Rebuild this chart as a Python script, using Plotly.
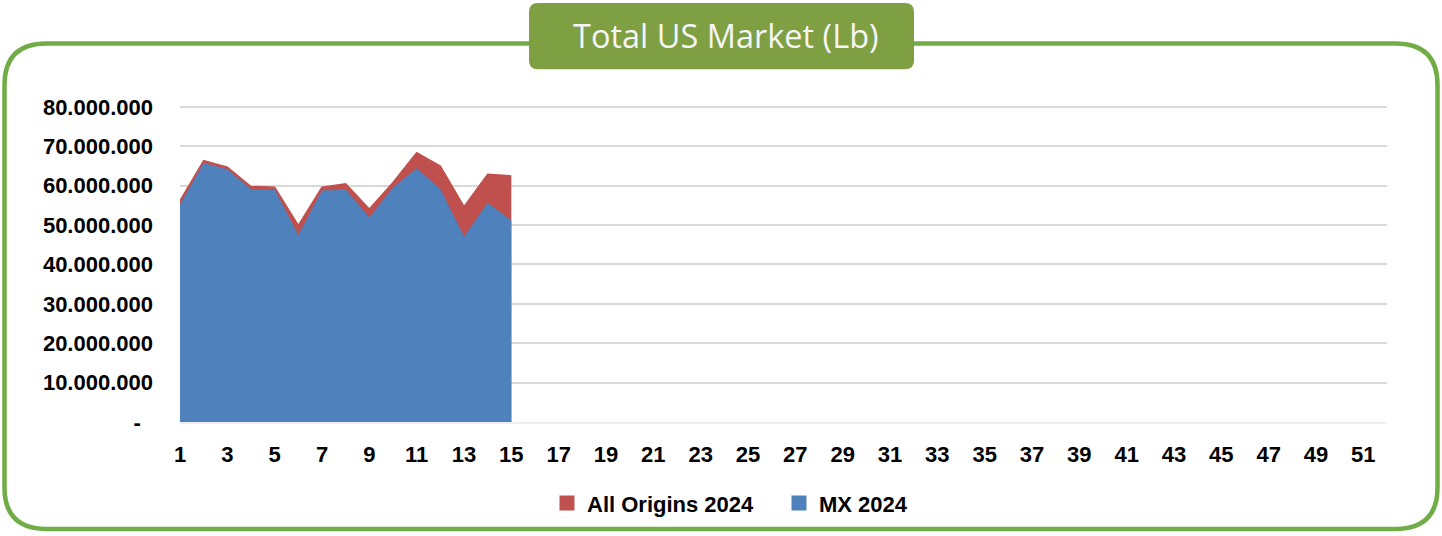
import plotly.graph_objects as go

# ---- data ----
weeks = list(range(1, 16))
all_origins_2024 = [56.2e6, 66.4e6, 64.7e6, 59.8e6, 59.6e6, 49.9e6, 59.6e6, 60.5e6,
                    54.1e6, 60.8e6, 68.4e6, 65.0e6, 54.7e6, 62.9e6, 62.5e6]
mx_2024 = [55.1e6, 65.7e6, 64.1e6, 59.1e6, 58.9e6, 47.4e6, 58.7e6, 59.0e6,
           51.9e6, 59.5e6, 64.4e6, 59.1e6, 47.0e6, 55.6e6, 51.1e6]
x_tick_vals = list(range(1, 52, 2))
y_tick_vals = [0, 10e6, 20e6, 30e6, 40e6, 50e6, 60e6, 70e6, 80e6]
y_tick_text = ["-\u00a0\u00a0", "10.000.000", "20.000.000", "30.000.000", "40.000.000",
               "50.000.000", "60.000.000", "70.000.000", "80.000.000"]
title_text = "Total US Market (Lb)"

RED = "#C0504D"
BLUE = "#4F81BD"
GREEN = "#70AD47"
TITLE_FILL = "#7F9F43"

W, H = 1442, 536
L, R, T, B = 180, 1387, 105, 425
Y_TOP = 80e6 * (B - T) / (425 - 107)


def px(x):
    return (x - L) / (R - L)


def py(y):
    return (B - y) / (B - T)


def rounded_rect(x0, y0, x1, y1, r):
    pts = [
        f"M {px(x0 + r)},{py(y0)}",
        f"L {px(x1 - r)},{py(y0)}",
        f"Q {px(x1)},{py(y0)} {px(x1)},{py(y0 + r)}",
        f"L {px(x1)},{py(y1 - r)}",
        f"Q {px(x1)},{py(y1)} {px(x1 - r)},{py(y1)}",
        f"L {px(x0 + r)},{py(y1)}",
        f"Q {px(x0)},{py(y1)} {px(x0)},{py(y1 - r)}",
        f"L {px(x0)},{py(y0 + r)}",
        f"Q {px(x0)},{py(y0)} {px(x0 + r)},{py(y0)}",
        "Z",
    ]
    return " ".join(pts)


fig = go.Figure()
fig.add_trace(go.Scatter(x=weeks, y=all_origins_2024, mode="lines", fill="tozeroy",
                         line=dict(color=RED, width=1.5), fillcolor=RED,
                         showlegend=False, hoverinfo="skip"))
fig.add_trace(go.Scatter(x=weeks, y=mx_2024, mode="lines", fill="tozeroy",
                         line=dict(color=BLUE, width=0.5), fillcolor=BLUE,
                         showlegend=False, hoverinfo="skip"))
# legend entries
fig.add_trace(go.Scatter(x=[None], y=[None], mode="markers", name="All Origins 2024",
                         marker=dict(symbol="square", size=15, color=RED)))
fig.add_trace(go.Scatter(x=[None], y=[None], mode="markers", name="MX 2024",
                         marker=dict(symbol="square", size=15, color=BLUE)))

font_family = "Liberation Sans"

fig.update_layout(
    width=W, height=H,
    margin=dict(l=L, r=W - R, t=T, b=H - B),
    paper_bgcolor="white", plot_bgcolor="white",
    showlegend=True,
    legend=dict(orientation="h", x=px(779), xanchor="center", y=py(507), yanchor="middle",
                font=dict(family=font_family, size=22, color="black", weight="bold"),
                itemwidth=30, entrywidth=187, traceorder="normal"),
    xaxis=dict(range=[1, 52], tickmode="array", tickvals=x_tick_vals,
               ticktext=[str(v) for v in x_tick_vals], showgrid=False, zeroline=False,
               showline=True, linecolor="#EEEEEE", linewidth=1.5, ticks="",
               tickfont=dict(family=font_family, size=22, color="black", weight="bold"),
               ticklabelstandoff=12, fixedrange=True),
    yaxis=dict(range=[0, Y_TOP], tickmode="array", tickvals=y_tick_vals, ticktext=y_tick_text,
               showgrid=True, gridcolor="#D9D9D9", gridwidth=1.5, zeroline=False,
               showline=False, ticks="",
               tickfont=dict(family=font_family, size=22, color="black", weight="bold"),
               ticklabelstandoff=26, fixedrange=True),
    shapes=[
        dict(type="path", xref="paper", yref="paper", path=rounded_rect(4.5, 43, 1437.5, 533, 42),
             line=dict(color=GREEN, width=4.5), fillcolor="rgba(0,0,0,0)", layer="above"),
        dict(type="path", xref="paper", yref="paper", path=rounded_rect(529, 2, 914, 69, 9),
             line=dict(color=TITLE_FILL, width=0), fillcolor=TITLE_FILL, layer="above"),
    ],
    annotations=[
        dict(text=title_text, xref="paper", yref="paper", x=px(726), y=py(35),
             xanchor="center", yanchor="middle", showarrow=False,
             font=dict(family="Open Sans", size=32.5, color="#F5F5F5")),
    ],
)

fig.write_html("out.html", post_script="document.body.style.margin='0';",
               config={"displayModeBar": False})
